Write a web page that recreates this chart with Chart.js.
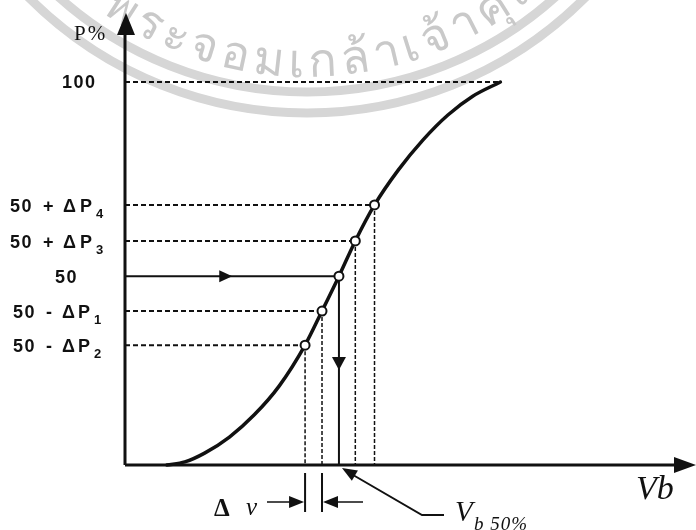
<!DOCTYPE html>
<html>
<head>
<meta charset="utf-8">
<script src="https://cdn.jsdelivr.net/npm/chart.js@4"></script>
<style>
  body { margin: 0; background: #fff; }
  canvas { display: block; }
</style>
</head>
<body>
<canvas id="c" width="696" height="530"></canvas>
<script>
// Breakdown voltage probability curve (P% vs Vb)
// Vb is in arbitrary units (0..100 across the axis), P in percent

// S-curve below and above the marked levels
const lowerVb = [7.4, 10.6, 14.1, 18.5, 22.9, 27.3];
const lowerP = [0, 0.8, 3.1, 7.3, 13.1, 20.6];
const upperVb = [48.4, 52.8, 57.2, 61.6, 66.5];
const upperP = [77.0, 84.9, 91.4, 96.3, 100];

// marked levels on the curve (50-dP2, 50-dP1, 50, 50+dP3, 50+dP4)
const levelVb = [31.9, 34.9, 37.9, 40.8, 44.2];
const levelP = [31.3, 40.2, 49.3, 58.5, 67.9];
const levelOp = ['-', '-', '', '+', '+'];
const levelSub = ['2', '1', '', '3', '4'];

const topP = 100;
const midIndex = 2;
// where the flow arrows sit on the 50% guide lines
const arrowAcrossVb = 19.0;
const arrowDownP = 24.8;

const sealText = 'พระจอมเกล้าเจ้าคุณทหารลาดกระบัง';

const curveVb = lowerVb.concat(levelVb, upperVb);
const curveP = lowerP.concat(levelP, upperP);

function pts(xs, ys) {
    return xs.map((x, i) => ({ x: x, y: ys[i] }));
}

const datasets = [];

// circle markers (first so they sit on top)
datasets.push({
    data: pts(levelVb, levelP),
    showLine: false,
    pointRadius: 4.5,
    pointBackgroundColor: '#fff',
    pointBorderColor: '#111',
    pointBorderWidth: 2,
    clip: false
});

// the curve
datasets.push({
    data: pts(curveVb, curveP),
    showLine: true,
    borderColor: '#111',
    borderWidth: 3.5,
    borderCapStyle: 'round',
    cubicInterpolationMode: 'monotone',
    pointRadius: 0,
    clip: false
});

// 100% guide
datasets.push({
    data: [{ x: 0, y: topP }, { x: curveVb[curveVb.length - 1], y: topP }],
    showLine: true,
    borderColor: '#111',
    borderWidth: 2,
    borderDash: [5, 3],
    pointRadius: 0,
    clip: false
});

// guides from each level to the curve and down to the Vb axis
levelVb.forEach((vb, i) => {
    const solid = i === midIndex;
    datasets.push({
        data: [{ x: 0, y: levelP[i] }, { x: vb, y: levelP[i] }],
        showLine: true,
        borderColor: '#111',
        borderWidth: 2,
        borderDash: solid ? [] : [5, 3],
        pointRadius: 0,
        clip: false
    });
    datasets.push({
        data: [{ x: vb, y: levelP[i] }, { x: vb, y: 0 }],
        showLine: true,
        borderColor: '#111',
        borderWidth: solid ? 2 : 1.5,
        borderDash: solid ? [] : [4, 2],
        pointRadius: 0,
        clip: false
    });
});

function arrowHead(ctx, x, y, angle, len, half) {
    ctx.save();
    ctx.translate(x, y);
    ctx.rotate(angle);
    ctx.beginPath();
    ctx.moveTo(0, 0);
    ctx.lineTo(-len, -half);
    ctx.lineTo(-len, half);
    ctx.closePath();
    ctx.fill();
    ctx.restore();
}

function graphemes(s) {
    if (window.Intl && Intl.Segmenter) {
        return Array.from(new Intl.Segmenter('th', { granularity: 'grapheme' }).segment(s), g => g.segment);
    }
    return s.match(/.[\u0E31\u0E34-\u0E3A\u0E47-\u0E4E]*/g);
}

// faint seal watermark behind the figure
function drawSeal(ctx) {
    const cx = 307, cy = -280;
    const deg = Math.PI / 180;
    ctx.save();
    ctx.strokeStyle = '#d6d6d6';
    ctx.lineWidth = 9;
    [372, 393].forEach(r => {
        ctx.beginPath();
        ctx.arc(cx, cy, r, 0, Math.PI);
        ctx.stroke();
    });
    ctx.fillStyle = '#c9c9c9';
    ctx.font = '47px "Noto Sans", "DejaVu Sans", sans-serif';
    ctx.textAlign = 'center';
    ctx.textBaseline = 'alphabetic';
    const rc = 345, rb = 357;
    const parts = graphemes(sealText);
    const widths = parts.map(g => ctx.measureText(g).width);
    // spread so that the 14th glyph lands where it is in the scan
    const a0 = 122.8 * deg, a13 = 57.3 * deg;
    let half = 0;
    for (let i = 0; i < 13; i++) half += widths[i] / 2 + widths[i + 1] / 2;
    const gap = ((a0 - a13) * rc - half) / 13;
    let a = a0;
    parts.forEach((g, i) => {
        if (i > 0) a -= (widths[i - 1] / 2 + gap + widths[i] / 2) / rc;
        ctx.save();
        ctx.translate(cx + rb * Math.cos(a), cy + rb * Math.sin(a));
        ctx.rotate(a - Math.PI / 2);
        ctx.fillText(g, 0, 0);
        ctx.restore();
    });
    ctx.restore();
}

const SANS = '"Liberation Sans", Arial, sans-serif';
const SERIF = '"Liberation Serif", "Times New Roman", serif';

const sketchPlugin = {
    id: 'sketch',
    beforeDraw(chart) {
        const ctx = chart.ctx;
        ctx.save();
        ctx.fillStyle = '#fff';
        ctx.fillRect(0, 0, chart.width, chart.height);
        ctx.restore();
        drawSeal(ctx);
    },
    afterDraw(chart) {
        const ctx = chart.ctx;
        const xs = chart.scales.x, ys = chart.scales.y;
        const px = v => xs.getPixelForValue(v);
        const py = v => ys.getPixelForValue(v);
        const x0 = px(0), y0 = py(0);
        const spacing = s => { if ('letterSpacing' in ctx) ctx.letterSpacing = s; };

        ctx.save();
        ctx.strokeStyle = '#111';
        ctx.fillStyle = '#111';

        // axes with arrow heads
        ctx.lineWidth = 3;
        ctx.beginPath();
        ctx.moveTo(x0, y0);
        ctx.lineTo(x0, 30);
        ctx.moveTo(x0, y0);
        ctx.lineTo(680, y0);
        ctx.stroke();
        arrowHead(ctx, x0 + 1, 13, -Math.PI / 2, 22, 9);
        arrowHead(ctx, 696, y0, 0, 22, 8);

        // flow arrows on the 50% guides
        arrowHead(ctx, px(arrowAcrossVb), py(levelP[midIndex]), 0, 13, 6);
        arrowHead(ctx, px(levelVb[midIndex]), py(arrowDownP), Math.PI / 2, 13, 7);

        // y labels
        ctx.textBaseline = 'alphabetic';
        ctx.textAlign = 'left';
        ctx.font = 'bold 18px ' + SANS;
        spacing('1.5px');
        ctx.fillText('100', 62, py(topP) + 6);
        levelOp.forEach((op, i) => {
            const y = py(levelP[i]) + 7;
            ctx.font = 'bold 18px ' + SANS;
            if (!op) {
                ctx.fillText('50', 55, y);
                return;
            }
            const plus = op === '+';
            const x = plus ? 10 : 13;
            ctx.fillText('50', x, y);
            ctx.fillText(op, plus ? 43 : 46, y);
            ctx.fillText('Δ', plus ? 63 : 62, y);
            ctx.fillText('P', plus ? 80 : 78, y);
            ctx.font = 'bold 13px ' + SANS;
            ctx.fillText(levelSub[i], plus ? 96 : 94, y + 6);
        });
        spacing('0px');

        // axis titles
        ctx.font = '21px ' + SERIF;
        spacing('2px');
        ctx.fillText('P%', 74, 40);
        spacing('0px');
        ctx.font = 'italic 34px ' + SERIF;
        ctx.fillText('Vb', 636, 499);

        // delta v marker between the two lowest guides
        const xa = px(levelVb[0]), xb = px(levelVb[1]);
        ctx.lineWidth = 2;
        ctx.beginPath();
        ctx.moveTo(xa, y0 + 8);
        ctx.lineTo(xa, 512);
        ctx.moveTo(xb, y0 + 8);
        ctx.lineTo(xb, 512);
        ctx.stroke();
        ctx.lineWidth = 1.5;
        ctx.beginPath();
        ctx.moveTo(267, 502);
        ctx.lineTo(xa - 8, 502);
        ctx.moveTo(xb + 8, 502);
        ctx.lineTo(363, 502);
        ctx.stroke();
        arrowHead(ctx, xa - 1, 502, 0, 15, 6);
        arrowHead(ctx, xb + 1, 502, Math.PI, 15, 6);
        ctx.font = 'bold 25px ' + SERIF;
        ctx.fillText('Δ', 214, 516);
        ctx.font = 'italic 25px ' + SERIF;
        ctx.fillText('v', 246, 515);

        // Vb 50% leader
        const tipX = px(levelVb[midIndex]) + 3, tipY = y0 + 3;
        ctx.lineWidth = 2;
        ctx.beginPath();
        ctx.moveTo(tipX + 6, tipY + 4);
        ctx.lineTo(422, 515);
        ctx.lineTo(444, 515);
        ctx.stroke();
        arrowHead(ctx, tipX, tipY, Math.atan2(tipY - 515, tipX - 422), 15, 6);
        ctx.font = 'italic 29px ' + SERIF;
        ctx.fillText('V', 455, 521);
        ctx.font = 'italic 19px ' + SERIF;
        spacing('1px');
        ctx.fillText('b 50%', 474, 530);
        spacing('0px');

        ctx.restore();
    }
};

new Chart(document.getElementById('c').getContext('2d'), {
    type: 'scatter',
    data: { datasets: datasets },
    options: {
        responsive: false,
        animation: false,
        layout: { padding: { left: 125, right: 3, top: 15, bottom: 65 } },
        scales: {
            x: { type: 'linear', min: 0, max: 100, display: false },
            y: { type: 'linear', min: 0, max: 117.5, display: false }
        },
        plugins: {
            legend: { display: false },
            tooltip: { enabled: false }
        }
    },
    plugins: [sketchPlugin]
});
</script>
</body>
</html>
